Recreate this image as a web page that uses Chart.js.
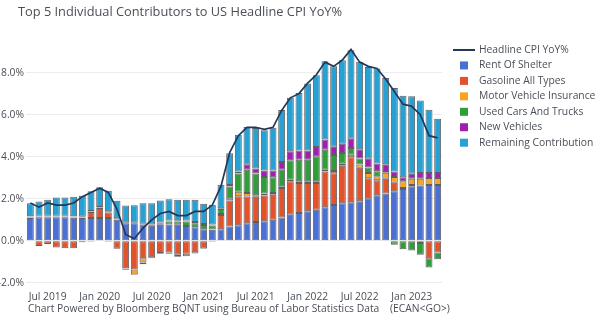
<!DOCTYPE html>
<html>
<head>
<meta charset="utf-8">
<script src="https://cdn.jsdelivr.net/npm/chart.js@4.4.1/dist/chart.umd.min.js"></script>
<style>
  body { margin: 0; background: #fff; }
  canvas { display: block; }
</style>
</head>
<body>
<canvas id="cpiChart" width="600" height="321"></canvas>
<script>
// monthly observations, May 2019 .. Apr 2023
const months = [
  'May 2019', 'Jun 2019', 'Jul 2019', 'Aug 2019', 'Sep 2019', 'Oct 2019', 'Nov 2019', 'Dec 2019',
  'Jan 2020', 'Feb 2020', 'Mar 2020', 'Apr 2020', 'May 2020', 'Jun 2020', 'Jul 2020', 'Aug 2020',
  'Sep 2020', 'Oct 2020', 'Nov 2020', 'Dec 2020', 'Jan 2021', 'Feb 2021', 'Mar 2021', 'Apr 2021',
  'May 2021', 'Jun 2021', 'Jul 2021', 'Aug 2021', 'Sep 2021', 'Oct 2021', 'Nov 2021', 'Dec 2021',
  'Jan 2022', 'Feb 2022', 'Mar 2022', 'Apr 2022', 'May 2022', 'Jun 2022', 'Jul 2022', 'Aug 2022',
  'Sep 2022', 'Oct 2022', 'Nov 2022', 'Dec 2022', 'Jan 2023', 'Feb 2023', 'Mar 2023', 'Apr 2023'
];
const xTickLabels = ['Jul 2019', 'Jan 2020', 'Jul 2020', 'Jan 2021', 'Jul 2021', 'Jan 2022', 'Jul 2022', 'Jan 2023'];
const yTicks = [-2, 0, 2, 4, 6, 8];

const headlineCpi = [
  1.8, 1.6, 1.8, 1.7, 1.7, 1.8, 2.1, 2.3, 2.5, 2.3, 1.5, 0.3, 0.1, 0.6, 1.0, 1.3,
  1.4, 1.2, 1.2, 1.4, 1.4, 1.7, 2.6, 4.2, 5.0, 5.4, 5.4, 5.3, 5.4, 6.2, 6.8, 7.0,
  7.5, 7.9, 8.5, 8.3, 8.6, 9.1, 8.5, 8.3, 8.2, 7.7, 7.1, 6.5, 6.4, 6.0, 5.0, 4.9
];
const rentOfShelter = [
  1.08, 1.12, 1.12, 1.12, 1.12, 1.10, 1.08, 1.08, 1.08, 1.08, 1.00, 0.84, 0.84, 0.78, 0.72, 0.76,
  0.78, 0.76, 0.71, 0.65, 0.55, 0.52, 0.55, 0.68, 0.74, 0.84, 0.90, 0.93, 1.00, 1.11, 1.24, 1.32,
  1.40, 1.48, 1.60, 1.70, 1.79, 1.84, 1.88, 2.03, 2.17, 2.25, 2.36, 2.46, 2.60, 2.63, 2.66, 2.66
];
const gasoline = [
  0.02, -0.25, -0.15, -0.32, -0.36, -0.36, -0.07, 0.29, 0.48, 0.27, -0.38, -1.30, -1.36, -0.83, -0.78, -0.58,
  -0.56, -0.66, -0.62, -0.55, -0.37, -0.04, 0.68, 1.24, 1.38, 1.27, 1.19, 1.22, 1.19, 1.40, 1.59, 1.43,
  1.35, 1.27, 1.70, 1.51, 1.78, 2.14, 1.59, 0.95, 0.71, 0.70, 0.40, 0.05, 0.05, -0.10, -0.83, -0.56
];
const motorInsurance = [
  0.02, 0.02, 0.02, 0.02, 0.02, 0.02, 0.02, 0.02, 0.02, 0.02, 0.02, -0.03, -0.24, -0.20, -0.05, -0.04,
  -0.05, -0.10, -0.12, -0.05, -0.02, 0.02, 0.04, 0.10, 0.21, 0.16, 0.08, 0.10, 0.08, 0.08, 0.08, 0.08,
  0.08, 0.08, 0.08, 0.11, 0.10, 0.11, 0.16, 0.24, 0.19, 0.29, 0.27, 0.32, 0.30, 0.32, 0.33, 0.33
];
const usedCars = [
  0.02, 0.02, 0.02, 0.02, 0.02, 0.02, 0.02, -0.05, -0.02, -0.05, 0.02, -0.05, -0.03, -0.08, 0.03, 0.08,
  0.14, 0.16, 0.21, 0.19, 0.20, 0.19, 0.24, 0.56, 0.87, 1.11, 1.03, 0.78, 0.75, 0.79, 0.92, 1.03,
  1.03, 1.19, 0.95, 0.76, 0.51, 0.32, 0.29, 0.27, 0.24, 0.03, -0.19, -0.40, -0.46, -0.56, -0.44, -0.32
];
const newVehicles = [
  0.03, 0.03, 0.03, 0.03, 0.03, 0.03, 0.03, 0.03, 0.03, 0.03, 0.03, 0.02, 0.02, 0.03, 0.03, 0.03,
  0.05, 0.06, 0.05, 0.05, 0.05, 0.05, 0.04, 0.08, 0.10, 0.24, 0.24, 0.32, 0.32, 0.37, 0.43, 0.44,
  0.44, 0.44, 0.49, 0.40, 0.44, 0.44, 0.43, 0.41, 0.37, 0.37, 0.27, 0.19, 0.24, 0.27, 0.24, 0.24
];
const remaining = [
  0.62, 0.68, 0.76, 0.87, 0.87, 0.93, 0.99, 0.94, 0.94, 0.98, 0.84, 0.82, 0.83, 0.98, 1.01, 1.05,
  1.01, 0.97, 0.98, 1.06, 0.96, 0.93, 1.12, 1.51, 1.75, 1.79, 1.93, 1.91, 2.04, 2.47, 2.54, 2.73,
  3.18, 3.42, 3.72, 3.82, 3.97, 4.21, 4.17, 4.37, 4.52, 4.11, 3.97, 3.88, 3.69, 3.46, 3.01, 2.58
];

const FONT = '"Open Sans", verdana, arial, sans-serif';
const TEXT = '#4a4f57';

function bars(label, data, color) {
  return {
    type: 'bar', label, data,
    backgroundColor: color,
    borderColor: 'rgba(55,55,60,0.8)',
    borderWidth: 1,
    borderSkipped: false,
    barPercentage: 0.8,
    categoryPercentage: 1.0,
    stack: 'parts',
    order: 1
  };
}

// title, source note and the legend on the right
const decorations = {
  id: 'decorations',
  afterDraw(chart) {
    const ctx = chart.ctx;
    ctx.save();
    ctx.fillStyle = TEXT;
    ctx.textBaseline = 'middle';
    ctx.textAlign = 'left';
    ctx.font = '12.8px ' + FONT;
    ctx.fillText('Top 5 Individual Contributors to US Headline CPI YoY%', 18, 12);

    ctx.font = '10.3px ' + FONT;
    ctx.fillText('Chart Powered by Bloomberg BQNT using Bureau of Labor Statistics Data', 28, 309);
    ctx.fillText('(ECAN<GO>)', 390, 309);

    chart.data.datasets.forEach((ds, i) => {
      const y = 50 + i * 15.45;
      if (ds.type === 'line') {
        ctx.strokeStyle = ds.borderColor;
        ctx.lineWidth = 2;
        ctx.beginPath();
        ctx.moveTo(453, y);
        ctx.lineTo(475, y);
        ctx.stroke();
      } else {
        ctx.fillStyle = ds.backgroundColor;
        ctx.fillRect(460, y - 4, 8, 8);
      }
      ctx.fillStyle = TEXT;
      ctx.fillText(ds.label, 479, y);
    });
    ctx.restore();
  }
};

new Chart(document.getElementById('cpiChart'), {
  data: {
    labels: months,
    datasets: [
      {
        type: 'line',
        label: 'Headline CPI YoY%',
        data: headlineCpi,
        borderColor: '#20395a',
        borderWidth: 1.7,
        pointRadius: 0,
        tension: 0,
        stack: 'cpi',
        order: 0
      },
      bars('Rent Of Shelter', rentOfShelter, '#4a70d4'),
      bars('Gasoline All Types', gasoline, '#e2522b'),
      bars('Motor Vehicle Insurance', motorInsurance, '#f5a51f'),
      bars('Used Cars And Trucks', usedCars, '#2f9e38'),
      bars('New Vehicles', newVehicles, '#9f1fae'),
      bars('Remaining Contribution', remaining, '#27a1d3')
    ]
  },
  options: {
    responsive: false,
    animation: false,
    devicePixelRatio: 1,
    layout: { padding: { top: 39, right: 158, left: 0, bottom: 0 } },
    plugins: {
      legend: { display: false },
      tooltip: { enabled: false }
    },
    scales: {
      x: {
        stacked: true,
        grid: { display: false, drawTicks: false, tickLength: 0 },
        border: { display: false },
        ticks: {
          autoSkip: false,
          maxRotation: 0,
          padding: 5,
          color: TEXT,
          font: { family: FONT, size: 10.3 },
          callback: (v, i) => xTickLabels.includes(months[i]) ? months[i] : ''
        },
        afterFit(scale) { scale.height = 35; }
      },
      y: {
        stacked: true,
        min: -2.15,
        max: 9.6,
        afterBuildTicks(scale) { scale.ticks = yTicks.map(v => ({ value: v })); },
        grid: { color: '#ececec', drawTicks: false },
        border: { display: false },
        ticks: {
          padding: 2,
          color: TEXT,
          font: { family: FONT, size: 10.3 },
          callback: v => v.toFixed(1) + '%'
        },
        afterFit(scale) { scale.width = 26; }
      }
    }
  },
  plugins: [decorations]
});
</script>
</body>
</html>
